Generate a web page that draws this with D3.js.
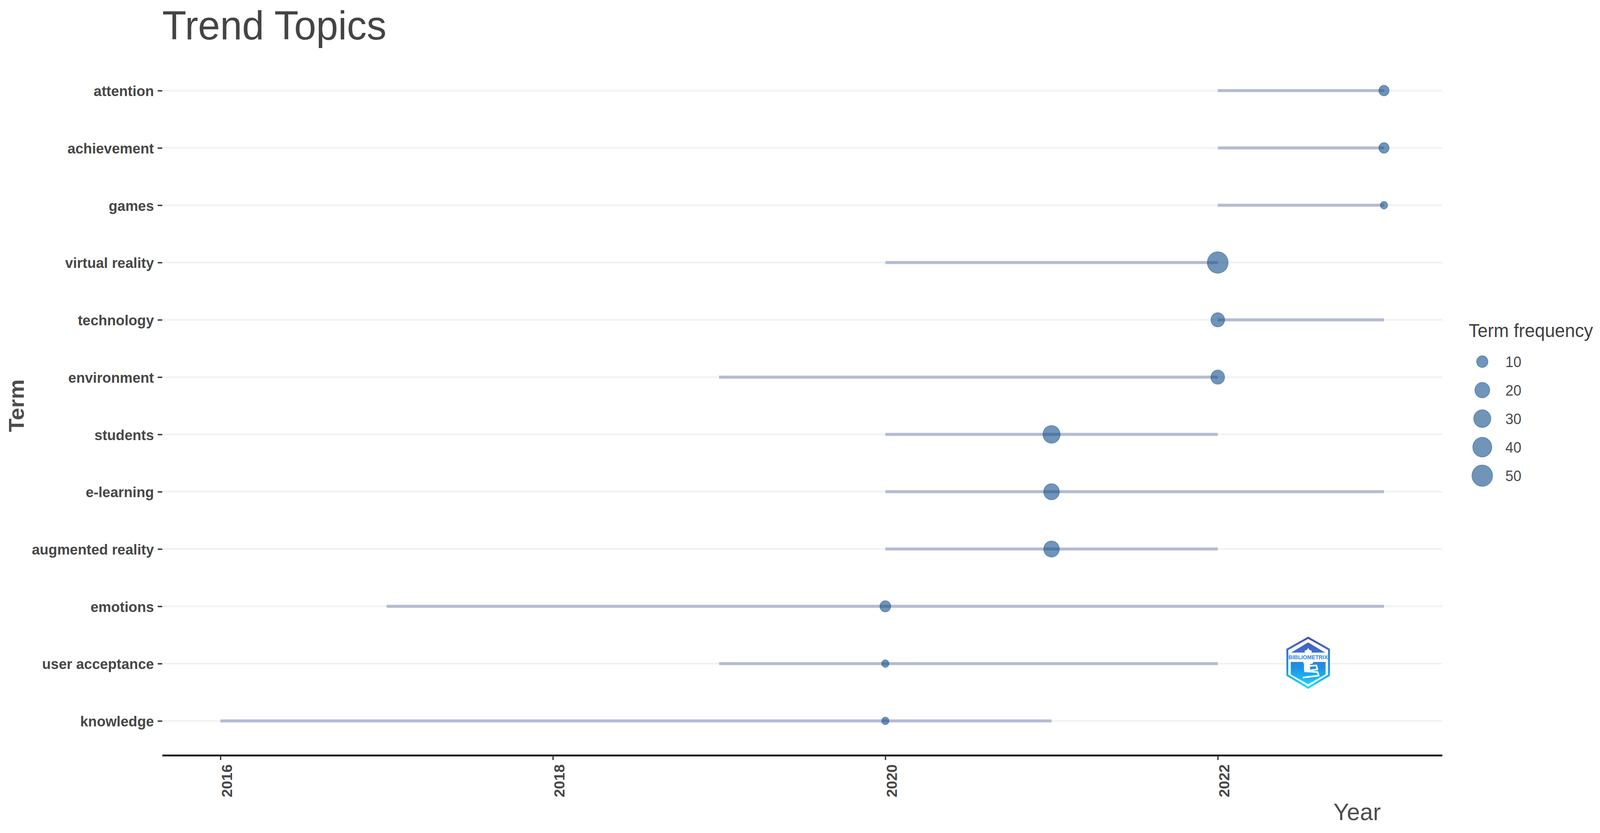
<!DOCTYPE html>
<html>
<head>
<meta charset="utf-8">
<title>Trend Topics</title>
<script src="https://cdn.jsdelivr.net/npm/d3@7/dist/d3.min.js"></script>
<style>
html,body{margin:0;padding:0;background:#fff;width:100%;height:100%;overflow:hidden}
svg{display:block;position:absolute;left:0;top:0;width:100%;height:100%}
text{font-family:"Liberation Sans",Arial,sans-serif}
</style>
</head>
<body>
<div id="chart"></div>
<script>
// ---- data ----
const terms = ["attention","achievement","games","virtual reality","technology","environment","students","e-learning","augmented reality","emotions","user acceptance","knowledge"];
const yearQ1 = [2022,2022,2022,2020,2022,2019,2020,2020,2020,2017,2019,2016];
const yearQ3 = [2023,2023,2023,2022,2023,2022,2022,2023,2022,2023,2022,2021];
const yearMedian = [2023,2023,2023,2022,2022,2022,2021,2021,2021,2020,2020,2020];
const termFrequency = [8,8,6,51,16,16,30,23,23,9,6,6];
const xTicks = [2016,2018,2020,2022];
const legendValues = [10,20,30,40,50];

// ---- layout: drawn in the reference's 4227x2133 space, fitted to the window ----
const W = 4227, H = 2133;
const plot = {left:428.6, right:3810, top:144, bottom:1934};
const svg = d3.select("#chart").append("svg").attr("viewBox",`0 0 ${W} ${H}`).attr("preserveAspectRatio","none");
svg.append("rect").attr("width",W).attr("height",H).attr("fill","#fff");

const x = d3.scaleLinear().domain([2015.65,2023.35]).range([plot.left,plot.right]);
const y = d3.scalePoint().domain(terms).range([plot.top,plot.bottom]).padding(0.6);
const minFreq = 6, maxFreq = 51;
const rScale = d3.scaleSqrt().domain([0,maxFreq-minFreq]).range([9.7,27.5]);
const radius = v => rScale(v-minFreq);

const rows = terms.map((t,i)=>({term:t,q1:yearQ1[i],q3:yearQ3[i],med:yearMedian[i],freq:termFrequency[i]}));

// grid
svg.append("g").selectAll("line").data(terms).join("line")
  .attr("x1",plot.left).attr("x2",plot.right)
  .attr("y1",d=>y(d)).attr("y2",d=>y(d))
  .attr("stroke","#f2f2f2").attr("stroke-width",4.5);

// logo
const logo = svg.append("g").attr("transform","translate(3456,1697)");
const defs = svg.append("defs");
const grad = defs.append("linearGradient").attr("id","logoGrad").attr("gradientUnits","userSpaceOnUse")
  .attr("x1",0).attr("x2",0).attr("y1",-66).attr("y2",66);
[[0,"#4a4fb3"],[0.3,"#3d72d2"],[0.6,"#1c92e6"],[0.85,"#1cc0f6"],[1,"#1fe0ff"]].forEach(s=>grad.append("stop").attr("offset",s[0]).attr("stop-color",s[1]));
const pts = a => a.map(p=>p.join(",")).join(" ");
logo.append("polygon").attr("points",pts([[0,-64],[55,-34],[55,32],[0,64],[-55,32],[-55,-34]]))
  .attr("fill","#fff").attr("stroke","url(#logoGrad)").attr("stroke-width",5);
logo.append("polygon").attr("points",pts([[0,-52],[45,-26],[-45,-26]])).attr("fill","url(#logoGrad)");
logo.append("polygon").attr("points",pts([[-46,-2],[46,-2],[46,30],[0,55],[-46,30]])).attr("fill","url(#logoGrad)");
logo.append("path").attr("d","M-9,-24 L-9,-31 L-3,-33 L0,-38 L3,-33 L9,-31 L9,-24 Z").attr("fill","#fff");
logo.append("text").attr("x",0).attr("y",-9).attr("text-anchor","middle")
  .attr("font-size",15).attr("font-weight",700).attr("fill","#2b86de")
  .attr("textLength",104).attr("lengthAdjust","spacingAndGlyphs").text("BIBLIOMETRIX");
logo.append("path").attr("d","M-14,-2 L-13,-7 L13,-7 L14,-2 L11,3 L-11,3 Z").attr("fill","#fff");
logo.append("polygon").attr("points",pts([[-11,2],[5,2],[5,18],[-11,20]])).attr("fill","#fff");
logo.append("path").attr("d","M4,8 L22,7 L24,17 L-10,22 L25,24 L28,33 L-14,38")
  .attr("stroke","#fff").attr("stroke-width",4).attr("fill","none");

// segments Q1..Q3
svg.append("g").selectAll("line").data(rows).join("line")
  .attr("x1",d=>x(d.q1)).attr("x2",d=>x(d.q3))
  .attr("y1",d=>y(d.term)).attr("y2",d=>y(d.term))
  .attr("stroke","#2f4488").attr("stroke-opacity",0.32).attr("stroke-width",8);

// median points
const pointStyle = s => s.attr("fill","#104E8B").attr("fill-opacity",0.6)
  .attr("stroke","#104E8B").attr("stroke-opacity",0.45).attr("stroke-width",2);
svg.append("g").selectAll("circle").data(rows).join("circle")
  .attr("cx",d=>x(d.med)).attr("cy",d=>y(d.term)).attr("r",d=>radius(d.freq))
  .call(pointStyle);

// axes
const axisY = svg.append("g").attr("transform",`translate(${plot.left},0)`)
  .call(d3.axisLeft(y).tickSize(12).tickPadding(10));
axisY.select(".domain").remove();
axisY.selectAll("line").attr("stroke","#333").attr("stroke-width",3.5);
axisY.selectAll("text").attr("font-family",'"Liberation Sans",Arial,sans-serif').attr("font-size",37.7).attr("font-weight",700)
  .attr("fill","#474747").attr("dy","13.7px");

const axisX = svg.append("g").attr("transform",`translate(0,${plot.bottom})`)
  .call(d3.axisBottom(x).tickValues(xTicks).tickFormat(d3.format("d")).tickSize(12).tickSizeOuter(0));
axisX.select(".domain").attr("stroke","#000").attr("stroke-width",4.5);
axisX.selectAll("line").attr("stroke","#333").attr("stroke-width",3.5);
axisX.selectAll("text").attr("font-family",'"Liberation Sans",Arial,sans-serif').attr("font-size",38).attr("font-weight",700)
  .attr("fill","#474747").attr("transform","rotate(-90)")
  .attr("text-anchor","end").attr("x",-23).attr("y",30).attr("dy",0);

// titles
svg.append("text").attr("x",plot.left).attr("y",101).attr("font-size",104.5).attr("fill","#444").text("Trend Topics");
svg.append("text").attr("transform",`translate(63,${(plot.top+plot.bottom)/2}) rotate(-90)`)
  .attr("text-anchor","middle").attr("font-size",57).attr("font-weight",700).attr("fill","#4d4d4d").text("Term");
svg.append("text").attr("x",3648).attr("y",2100).attr("text-anchor","end").attr("font-size",62).attr("fill","#4d4d4d").text("Year");

// legend
const legend = svg.append("g");
legend.append("text").attr("x",3880).attr("y",863).attr("font-size",47.7).attr("fill","#404040").text("Term frequency");
const legendY = d3.scalePoint().domain(legendValues).range([926,1218]);
legend.selectAll("circle").data(legendValues).join("circle")
  .attr("cx",3916).attr("cy",d=>legendY(d)).attr("r",d=>radius(d)).call(pointStyle);
legend.selectAll("text.lab").data(legendValues).join("text").attr("class","lab")
  .attr("x",3977).attr("y",d=>legendY(d)+14.5).attr("font-size",38).attr("fill","#4a4a4a").text(d=>d);
</script>
</body>
</html>
